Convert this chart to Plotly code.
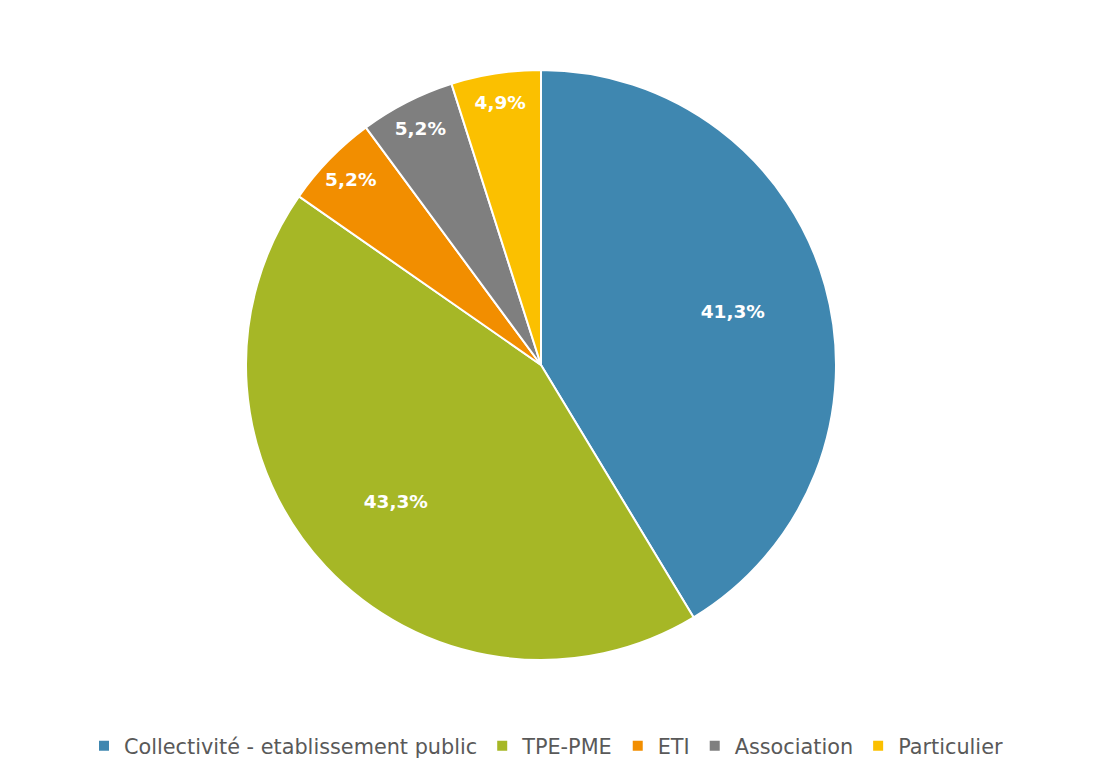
import plotly.graph_objects as go

categories = ["Collectivité - etablissement public", "TPE-PME", "ETI", "Association", "Particulier"]
values = [41.3, 43.3, 5.2, 5.2, 4.9]
labels_text = ["41,3%", "43,3%", "5,2%", "5,2%", "4,9%"]
colors = ["#3F87B0", "#A6B726", "#F28E00", "#7F7F7F", "#FBC000"]

dom = dict(x=[0, 1066/1102], y=[0, 1])

# Filled pie (no labels)
fig = go.Figure(go.Pie(
    labels=categories,
    values=values,
    textinfo="none",
    sort=False,
    direction="clockwise",
    rotation=0,
    marker=dict(colors=colors, line=dict(color="white", width=2)),
    domain=dom,
    hoverinfo="label+percent",
    showlegend=True,
))

# Transparent overlay rings used only to place the value labels
big_text = [t if v > 20 else "" for t, v in zip(labels_text, values)]
small_text = [t if v <= 20 else "" for t, v in zip(labels_text, values)]

for txt, hole in [(big_text, 0.35), (small_text, 0.80)]:
    fig.add_trace(go.Pie(
        labels=categories,
        values=values,
        text=txt,
        textinfo="text",
        textposition="inside",
        insidetextorientation="horizontal",
        sort=False,
        direction="clockwise",
        rotation=0,
        hole=hole,
        marker=dict(colors=["rgba(0,0,0,0)"] * len(values), line=dict(width=0)),
        textfont=dict(color="white", size=18.5, family="DejaVu Sans", weight="bold"),
        domain=dom,
        hoverinfo="skip",
        showlegend=False,
    ))

fig.update_layout(
    width=1102, height=764,
    margin=dict(l=0, r=0, t=62, b=112),
    paper_bgcolor="white",
    plot_bgcolor="white",
    uniformtext=dict(minsize=18, mode="show"),
    showlegend=True,
    legend=dict(
        orientation="h",
        x=538/1102, xanchor="center",
        y=-0.146, yanchor="middle",
        font=dict(size=20.8, color="#595959", family="DejaVu Sans"),
        itemwidth=30,
        traceorder="normal",
    ),
)

fig.write_html("out.html")
